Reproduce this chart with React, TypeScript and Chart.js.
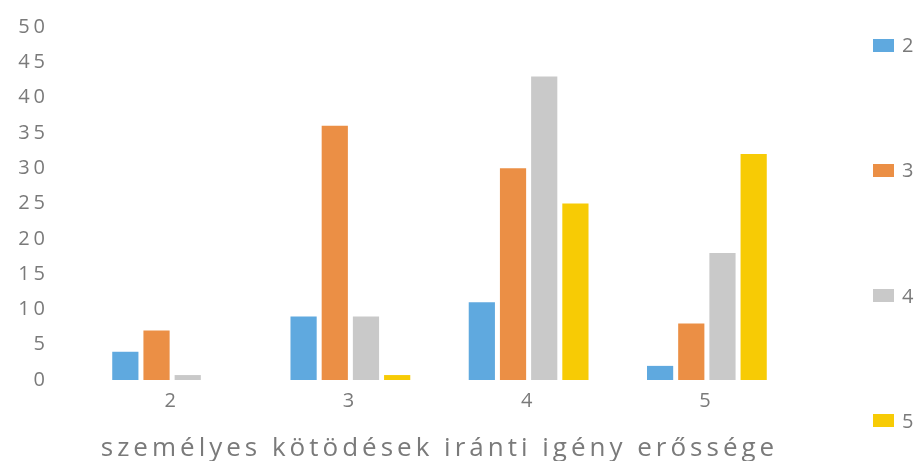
import React, { useEffect, useRef } from "react";
import { Chart, registerables } from "chart.js";

Chart.register(...registerables);

const categories = ["2", "3", "4", "5"];
const seriesLabels = ["2", "3", "4", "5"];
const series2 = [4, 9, 11, 2];
const series3 = [7, 36, 30, 8];
const series4 = [0.7, 9, 43, 18];
const series5 = [0, 0.7, 25, 32];
const yTicksMax = 50;
const yTickStep = 5;
const xAxisTitle = "személyes kötödések iránti igény erőssége";

const colors = ["#5FA9DF", "#EB8F45", "#C9C9C9", "#F7CB05"];
const textColor = "#7a7a7a";
const fontFamily = "'Open Sans', sans-serif";

const spacingPlugin = {
  id: "letterSpacing",
  beforeLayout(chart: any) {
    chart.ctx.letterSpacing = "4px";
  },
  beforeDraw(chart: any) {
    chart.ctx.letterSpacing = "4px";
  },
};

export default function App() {
  const ref = useRef<HTMLCanvasElement | null>(null);

  useEffect(() => {
    if (!ref.current) return;
    const allSeries = [series2, series3, series4, series5];
    const chart = new Chart(ref.current, {
      type: "bar",
      data: {
        labels: categories,
        datasets: allSeries.map((d, i) => ({
          label: seriesLabels[i],
          data: d,
          backgroundColor: colors[i],
          borderWidth: 0,
          categoryPercentage: 0.7,
          barPercentage: 0.84,
        })),
      },
      options: {
        responsive: false,
        animation: false,
        layout: { padding: { top: 27, left: 0, right: 124, bottom: 0 } },
        plugins: {
          legend: { display: false },
          tooltip: { enabled: false },
        },
        scales: {
          x: {
            grid: { display: false, drawTicks: false },
            border: { display: false },
            ticks: {
              color: textColor,
              font: { family: fontFamily, size: 20 },
              padding: 9,
            },
            title: {
              display: true,
              text: xAxisTitle,
              color: textColor,
              font: { family: fontFamily, size: 26, lineHeight: 0.92 },
              padding: { top: 10, bottom: 0 },
            },
            afterFit(scale: any) {
              scale.height = 81;
            },
          },
          y: {
            min: 0,
            max: yTicksMax,
            grid: { display: false, drawTicks: false },
            border: { display: false },
            ticks: {
              stepSize: yTickStep,
              color: textColor,
              font: { family: fontFamily, size: 20 },
              padding: 34,
            },
            afterFit(scale: any) {
              scale.width = 83;
              scale.paddingTop = 12;
              scale.paddingBottom = 12;
            },
          },
        },
      },
      plugins: [spacingPlugin],
    });
    return () => chart.destroy();
  }, []);

  return (
    <div style={{ position: "absolute", left: 0, top: 0, width: 920, height: 461, background: "#fff" }}>
      <canvas ref={ref} width={920} height={461} style={{ display: "block" }} />
      <div
        style={{
          position: "absolute",
          left: 873,
          top: 33,
          height: 400,
          display: "flex",
          flexDirection: "column",
          justifyContent: "space-between",
          fontFamily: "'Open Sans', sans-serif",
          fontSize: 20,
          color: textColor,
        }}
      >
        {seriesLabels.map((l, i) => (
          <div key={l} style={{ display: "flex", alignItems: "center", height: 24 }}>
            <span style={{ display: "inline-block", width: 21, height: 13, background: colors[i], marginRight: 8 }} />
            <span style={{ lineHeight: "24px" }}>{l}</span>
          </div>
        ))}
      </div>
    </div>
  );
}
